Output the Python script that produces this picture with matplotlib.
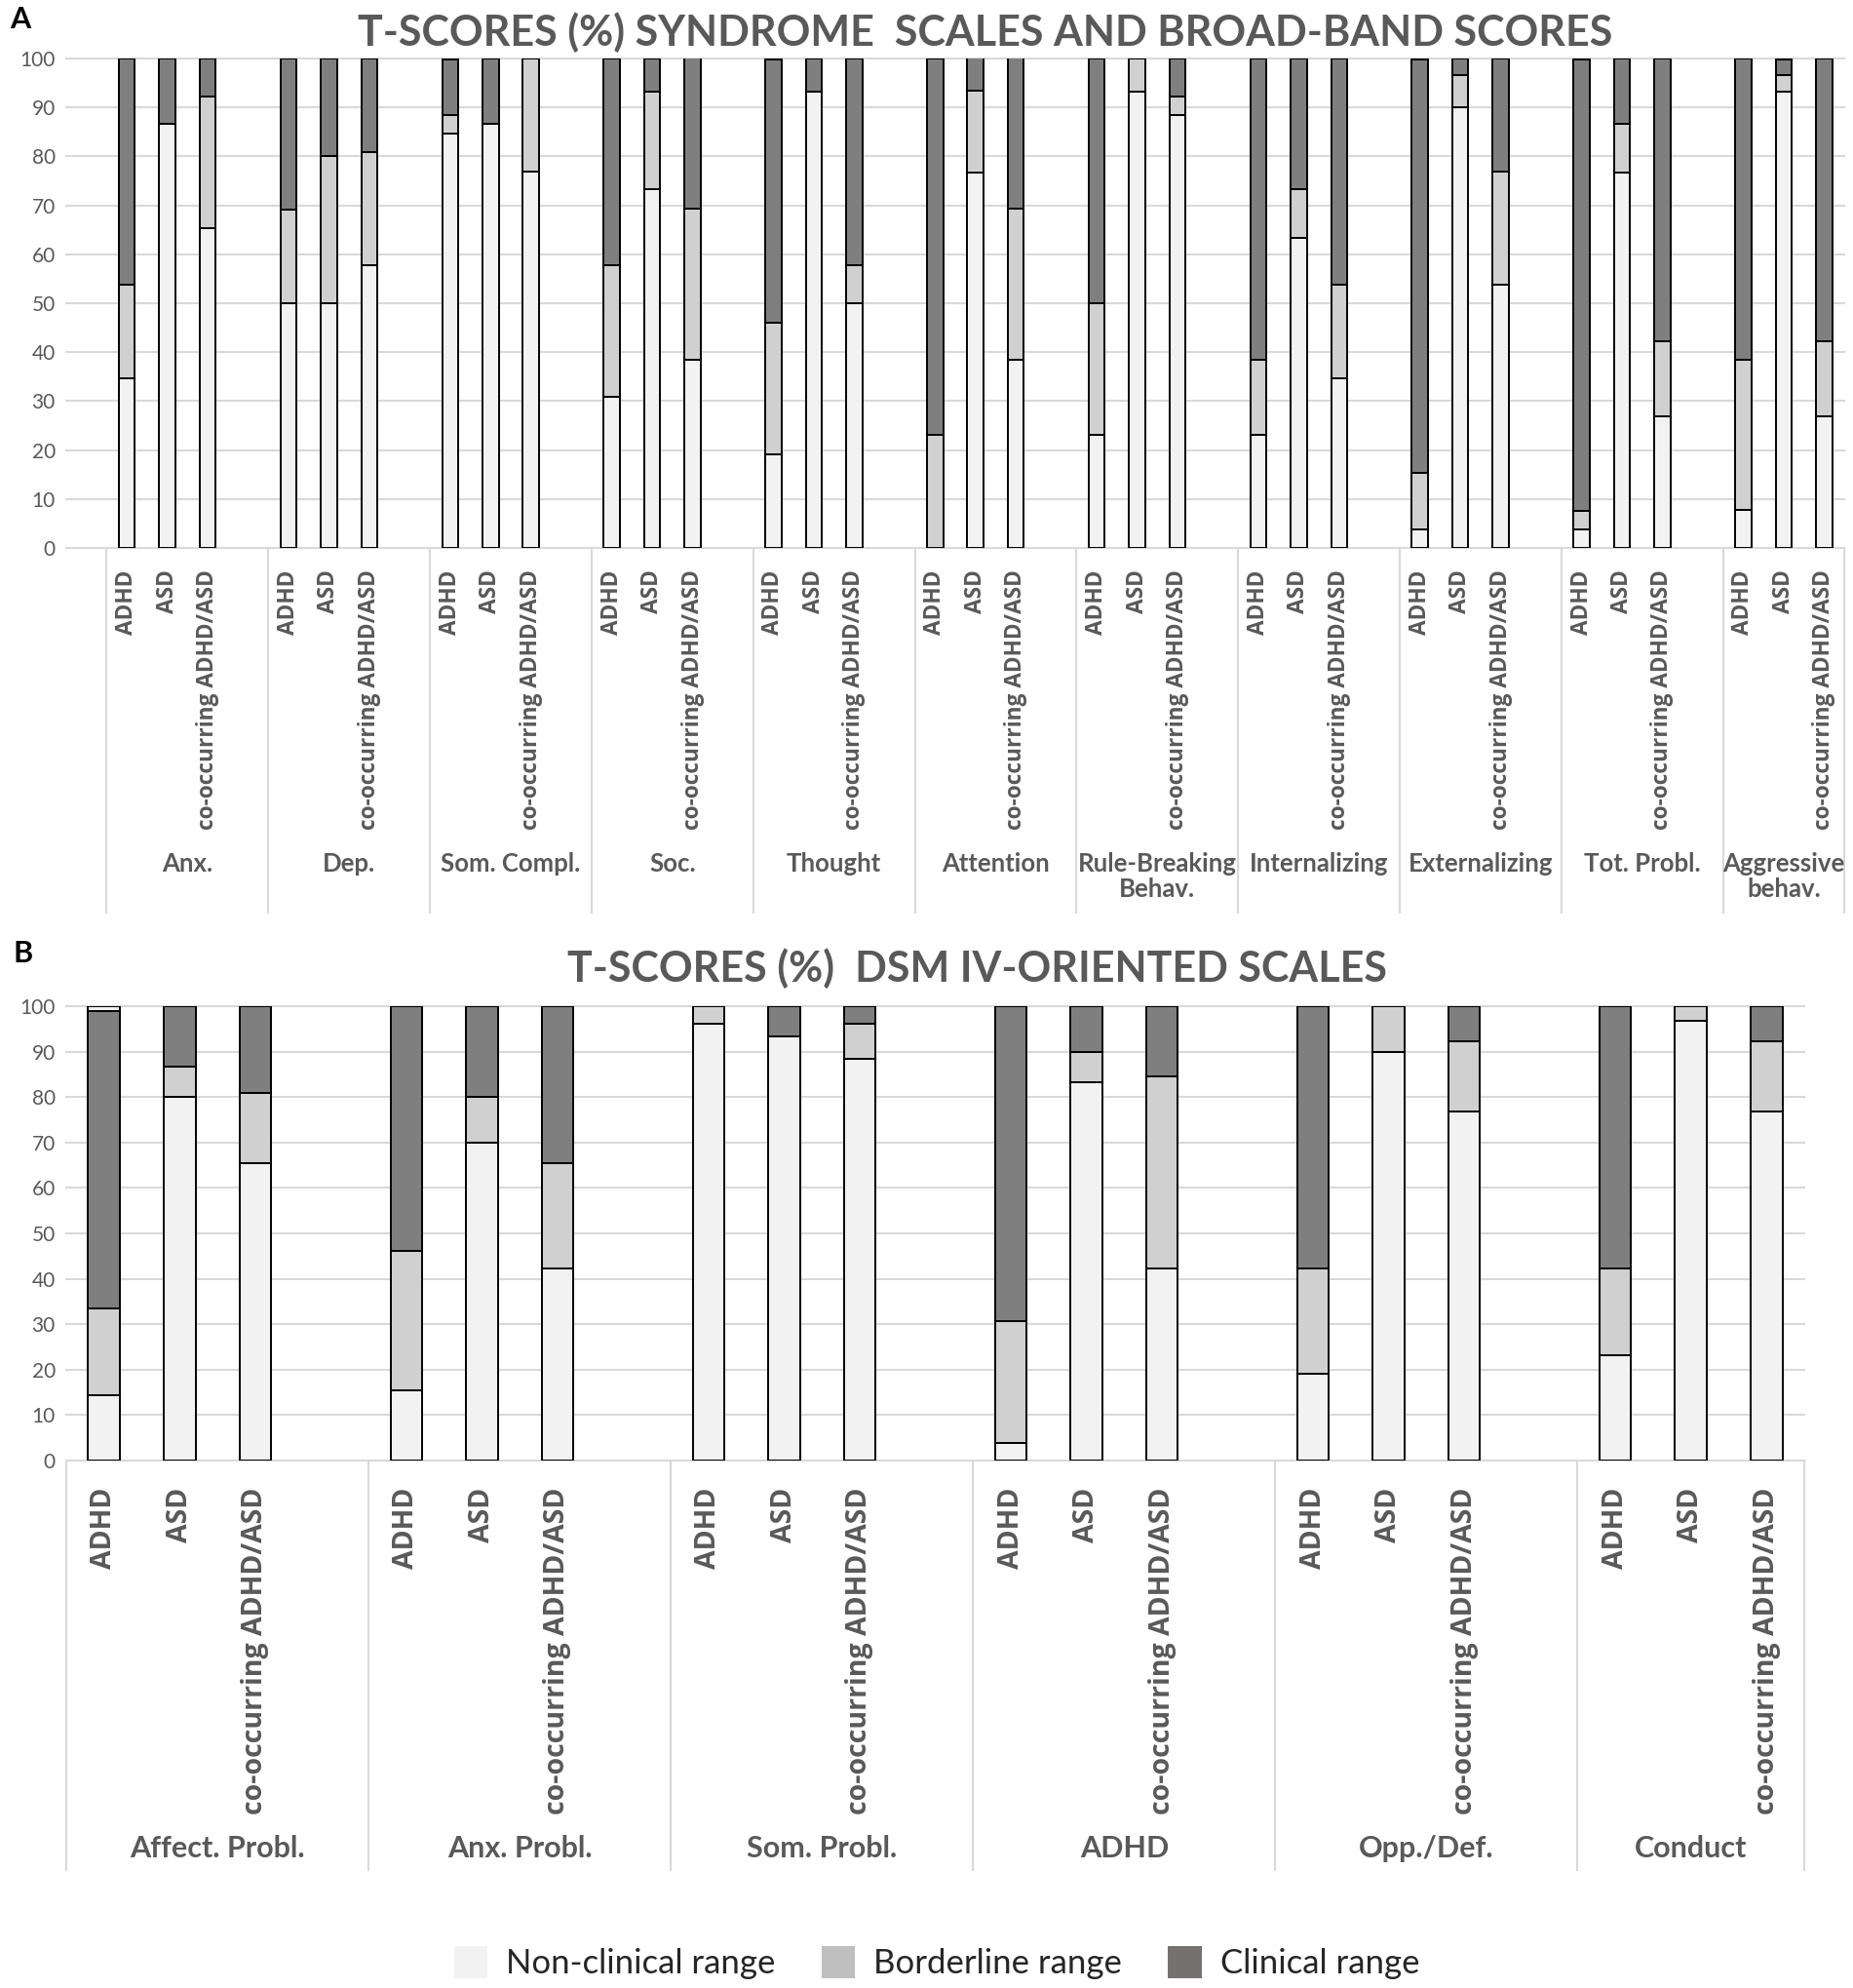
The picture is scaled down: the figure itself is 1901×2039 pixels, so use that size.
import matplotlib
matplotlib.use('Agg')
import matplotlib.pyplot as plt
from matplotlib.patches import Patch

# ---- data (percent of children per range) ----
groups = ['ADHD', 'ASD', 'co-occurring ADHD/ASD']

scales_a = ['Anx.', 'Dep.', 'Som. Compl.', 'Soc.', 'Thought', 'Attention',
            'Rule-Breaking\nBehav.', 'Internalizing', 'Externalizing',
            'Tot. Probl.', 'Aggressive\nbehav.']
nonclin_a = [34.6, 86.7, 65.4, 50.0, 50.0, 57.7, 84.6, 86.7, 76.9, 30.8, 73.3,
             38.5, 19.2, 93.3, 50.0, 0.0, 76.7, 38.5, 23.1, 93.3, 88.5, 23.1,
             63.3, 34.6, 3.8, 90.0, 53.8, 3.8, 76.7, 26.9, 7.7, 93.3, 26.9]
border_a = [19.2, 0.0, 26.9, 19.2, 30.0, 23.1, 3.8, 0.0, 23.1, 26.9, 20.0,
            30.8, 26.9, 0.0, 7.7, 23.1, 16.7, 30.8, 26.9, 6.7, 3.8, 15.4,
            10.0, 19.2, 11.5, 6.7, 23.1, 3.8, 10.0, 15.4, 30.8, 3.3, 15.4]
clin_a = [46.2, 13.3, 7.7, 30.8, 20.0, 19.2, 11.5, 13.3, 0.0, 42.3, 6.7,
          30.8, 53.8, 6.7, 42.3, 76.9, 6.7, 30.8, 50.0, 0.0, 7.7, 61.5,
          26.7, 46.2, 84.6, 3.3, 23.1, 92.3, 13.3, 57.7, 61.5, 3.3, 57.7]

scales_b = ['Affect. Probl.', 'Anx. Probl.', 'Som. Probl.', 'ADHD',
            'Opp./Def.', 'Conduct']
nonclin_b = [14.4, 80.0, 65.4, 15.4, 70.0, 42.3, 96.2, 93.3, 88.5,
             3.8, 83.3, 42.3, 19.2, 90.0, 76.9, 23.1, 96.7, 76.9]
border_b = [19.0, 6.7, 15.4, 30.8, 10.0, 23.1, 3.8, 0.0, 7.7,
            26.9, 6.7, 42.3, 23.1, 10.0, 15.4, 19.2, 3.3, 15.4]
clin_b = [65.6, 13.3, 19.2, 53.8, 20.0, 34.6, 0.0, 6.7, 3.8,
          69.2, 10.0, 15.4, 57.7, 0.0, 7.7, 57.7, 0.0, 7.7]
missing_b = [1.0, 0, 0, 0, 0, 0, 0, 0, 0, 0, 0, 0, 0, 0, 0, 0, 0, 0]

legend_labels = ['Non-clinical range', 'Borderline range', 'Clinical range']

C_NON = '#f2f2f2'
C_BOR = '#d0d0d0'
C_CLI = '#7f7f7f'
GRID = '#d9d9d9'
TXT = '#595959'
FONT = 'Lato'
TICKFONT = 'Open Sans'

plt.rcParams['font.family'] = [FONT, 'DejaVu Sans']


def positions(n_scales):
    # 3 bars per scale plus an empty slot, no empty slot after the last one
    xs = []
    for s in range(n_scales):
        for g in range(len(groups)):
            xs.append(s * 4 + g)
    return xs


def draw_panel(ax, scales, nonclin, border, clin, width, tick_size, group_size,
               sep_depth, group_y, tick_pad, left_pad, extra=None):
    xs = positions(len(scales))
    kw = dict(width=width, edgecolor='black', linewidth=1.4, zorder=3)
    ax.bar(xs, nonclin, color=C_NON, **kw)
    ax.bar(xs, border, bottom=nonclin, color=C_BOR, **kw)
    b2 = [a + b for a, b in zip(nonclin, border)]
    ax.bar(xs, clin, bottom=b2, color=C_CLI, **kw)
    if extra is not None:
        b3 = [a + b for a, b in zip(b2, clin)]
        ax.bar(xs, extra, bottom=b3, color=C_NON, **kw)

    last = (len(scales) - 1) * 4 + 2
    ax.set_xlim(-0.5 - left_pad, last + 0.5)
    ax.set_ylim(0, 100)
    ax.set_yticks(range(0, 101, 10))
    ax.tick_params(axis='y', length=0, labelsize=15, labelcolor=TXT, pad=8)
    ax.set_xticks(xs)
    ax.set_xticklabels(groups * len(scales), rotation=90, fontsize=tick_size,
                       fontweight='bold', color=TXT, va='top',
                       family=[TICKFONT, 'DejaVu Sans'])
    ax.tick_params(axis='x', length=0, pad=tick_pad)
    ax.yaxis.grid(True, color=GRID, linewidth=1.5)
    for ln in ax.get_ygridlines():
        ln.set_clip_on(False)
    ax.set_axisbelow(True)
    for sp in ax.spines.values():
        sp.set_visible(False)

    trans = ax.get_xaxis_transform()
    seps = [s * 4 - 0.5 for s in range(len(scales))] + [last + 0.5]
    for x in seps:
        ax.plot([x, x], [0, sep_depth], transform=trans, color=GRID,
                linewidth=1.5, clip_on=False, zorder=1)
    for s, name in enumerate(scales):
        if s < len(scales) - 1:
            cx = s * 4 + 1.5
        else:
            cx = s * 4 + 1
        ax.text(cx, group_y, name, transform=trans, ha='center', va='top',
                fontsize=group_size, fontweight='bold', color=TXT,
                linespacing=1.1)


fig = plt.figure(figsize=(19.01, 20.39), dpi=100)

H = 2039.0
W = 1901.0
ax_a = fig.add_axes([68 / W, 1 - 562 / H, (1892 - 68) / W, (562 - 60) / H])
draw_panel(ax_a, scales_a, nonclin_a, border_a, clin_a, width=0.4,
           tick_size=16.3, group_size=18.5, sep_depth=-374 / 502.0,
           group_y=-(874 - 562) / 502.0, tick_pad=16, left_pad=1.0)

ax_b = fig.add_axes([68 / W, 1 - 1498 / H, (1851 - 68) / W, (1498 - 1032) / H])
draw_panel(ax_b, scales_b, nonclin_b, border_b, clin_b, width=0.42,
           tick_size=20.5, group_size=22, sep_depth=-420 / 466.0,
           group_y=-(1882 - 1498) / 466.0, tick_pad=20, left_pad=0.0,
           extra=missing_b)

fig.text(1011 / W, 1 - 33 / H, 'T-SCORES (%) SYNDROME  SCALES AND BROAD-BAND SCORES',
         ha='center', va='center', fontsize=31, fontweight='bold', color=TXT)
fig.text(1002 / W, 1 - 993 / H, 'T-SCORES (%)  DSM IV-ORIENTED SCALES',
         ha='center', va='center', fontsize=31, fontweight='bold', color=TXT)
fig.text(10 / W, 1 - 20 / H, 'A', ha='left', va='center', fontsize=22,
         fontweight='bold', color='black')
fig.text(14 / W, 1 - 978 / H, 'B', ha='left', va='center', fontsize=22,
         fontweight='bold', color='black')

handles = [Patch(facecolor=c, edgecolor='none') for c in ['#f2f2f2', '#bfbfbf', '#767171']]
fig.legend(handles, legend_labels, loc='center', bbox_to_anchor=(961 / W, 1 - 2013 / H),
           ncol=3, frameon=False, fontsize=25, handlelength=1.0, handleheight=1.1,
           handletextpad=0.55, columnspacing=1.35, labelcolor='#262626')

fig.savefig('out.png', dpi=100)
